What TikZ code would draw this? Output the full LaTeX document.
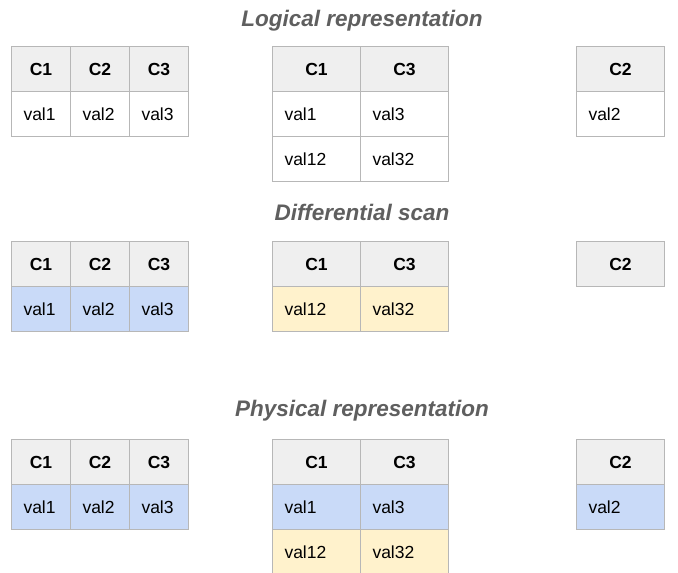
\documentclass[tikz,border=0pt]{standalone}
\usepackage{fontspec}
\setmainfont{Liberation Sans}
\definecolor{hdr}{HTML}{EFEFEF}
\definecolor{bord}{HTML}{B7B7B7}
\definecolor{blu}{HTML}{C9DAF8}
\definecolor{yel}{HTML}{FFF2CC}
\definecolor{ttl}{HTML}{5F5F5F}
\begin{document}
\begin{tikzpicture}[x=1pt,y=-1pt,
  cellbase/.style={draw=bord, line width=1pt, rectangle, anchor=north west,
    minimum height=45pt, inner ysep=0pt, inner xsep=12pt,
    font=\fontsize{17.5}{20}\selectfont, text height=12.6pt, text depth=0pt},
  nar/.style={text width=35pt},
  wid/.style={text width=64pt},
  hcell/.style={cellbase, fill=hdr, align=center, font=\fontsize{17.5}{20}\selectfont\bfseries},
  wcell/.style={cellbase, fill=white, align=left},
  bcell/.style={cellbase, fill=blu, align=left},
  ycell/.style={cellbase, fill=yel, align=left},
  ttlnode/.style={text=ttl, font=\fontsize{22.5}{26}\selectfont\bfseries\itshape,
    inner sep=0pt, text height=16.1pt, text depth=0pt}
]
\clip (0,0) rectangle (678,573);
\fill[white] (0,0) rectangle (678,573);

% ---------- Logical representation ----------
\node[ttlnode] (t1) at (362,18) {Logical representation};
\node[hcell,nar] (a1h1) at (11,46) {C1};
\node[hcell,nar] (a1h2) at (70,46) {C2};
\node[hcell,nar] (a1h3) at (129,46) {C3};
\node[wcell,nar] (a1d1) at (11,91) {val1};
\node[wcell,nar] (a1d2) at (70,91) {val2};
\node[wcell,nar] (a1d3) at (129,91) {val3};

\node[hcell,wid] (a2h1) at (272,46) {C1};
\node[hcell,wid] (a2h2) at (360,46) {C3};
\node[wcell,wid] (a2d1) at (272,91) {val1};
\node[wcell,wid] (a2d2) at (360,91) {val3};
\node[wcell,wid] (a2e1) at (272,136) {val12};
\node[wcell,wid] (a2e2) at (360,136) {val32};

\node[hcell,wid] (a3h1) at (576,46) {C2};
\node[wcell,wid] (a3d1) at (576,91) {val2};

% ---------- Differential scan ----------
\node[ttlnode] (t2) at (362,212.5) {Differential scan};
\node[hcell,nar] (b1h1) at (11,241) {C1};
\node[hcell,nar] (b1h2) at (70,241) {C2};
\node[hcell,nar] (b1h3) at (129,241) {C3};
\node[bcell,nar] (b1d1) at (11,286) {val1};
\node[bcell,nar] (b1d2) at (70,286) {val2};
\node[bcell,nar] (b1d3) at (129,286) {val3};

\node[hcell,wid] (b2h1) at (272,241) {C1};
\node[hcell,wid] (b2h2) at (360,241) {C3};
\node[ycell,wid] (b2d1) at (272,286) {val12};
\node[ycell,wid] (b2d2) at (360,286) {val32};

\node[hcell,wid] (b3h1) at (576,241) {C2};

% ---------- Physical representation ----------
\node[ttlnode] (t3) at (362,408) {Physical representation};
\node[hcell,nar] (c1h1) at (11,439) {C1};
\node[hcell,nar] (c1h2) at (70,439) {C2};
\node[hcell,nar] (c1h3) at (129,439) {C3};
\node[bcell,nar] (c1d1) at (11,484) {val1};
\node[bcell,nar] (c1d2) at (70,484) {val2};
\node[bcell,nar] (c1d3) at (129,484) {val3};

\node[hcell,wid] (c2h1) at (272,439) {C1};
\node[hcell,wid] (c2h2) at (360,439) {C3};
\node[bcell,wid] (c2d1) at (272,484) {val1};
\node[bcell,wid] (c2d2) at (360,484) {val3};
\node[ycell,wid] (c2e1) at (272,529) {val12};
\node[ycell,wid] (c2e2) at (360,529) {val32};

\node[hcell,wid] (c3h1) at (576,439) {C2};
\node[bcell,wid] (c3d1) at (576,484) {val2};
\end{tikzpicture}
\end{document}
